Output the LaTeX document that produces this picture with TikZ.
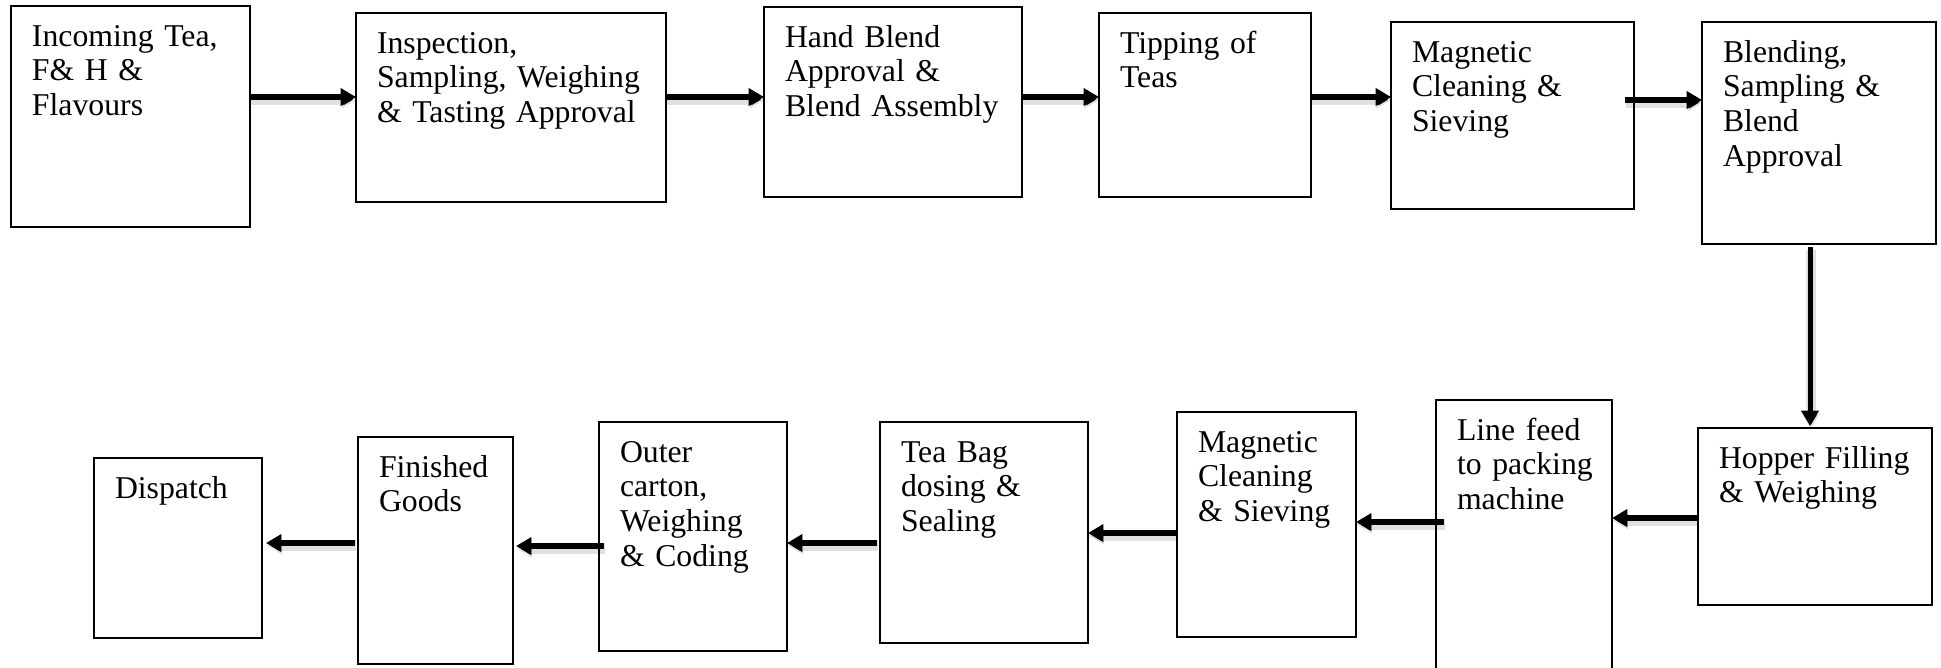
\documentclass[tikz,border=0pt]{standalone}
\usepackage{fontspec}
\setmainfont{Liberation Serif}
\usetikzlibrary{arrows.meta,calc}

\tikzset{
  box/.style={draw=black, line width=0.6pt, rectangle, inner sep=0pt, outer sep=0pt, fill=white},
  txt/.style={inner sep=0pt, outer sep=0pt, anchor=base west, align=left,
              font=\fontsize{12pt}{13.2pt}\selectfont},
  flow/.style={line width=1.9pt, -{Triangle[length=5.8pt,width=6.4pt]},
               preaction={draw=black, draw opacity=0.12, line width=4pt,
                          transform canvas={yshift=-1pt, xshift=0.3pt}}},
}

% one process box given by its corners (in px units) with its text at the top left
\newcommand\flowbox[6]{%
  \pgfmathsetmacro\bw{(#4-#2)*0.378}%
  \pgfmathsetmacro\bh{(#5-#3)*0.378}%
  \pgfmathsetmacro\tw{(#4-#2-26)*0.378}%
  \node[box, minimum width=\bw pt, minimum height=\bh pt] (#1) at ({(#2+#4)/2},{(#3+#5)/2}) {};
  \node[txt, text width=\tw pt] (#1t) at ([shift={(21,40)}]#1.north west) {#6};
}

\begin{document}
\begin{tikzpicture}[x=0.378pt, y=-0.378pt]
\clip (0,0) rectangle (1941,667);
\fill[white] (0,0) rectangle (1941,667);

% upper row, left to right
\flowbox{b1}{11}{6}{250}{227}{Incoming Tea,\\F\& H \&\\Flavours}
\flowbox{b2}{356}{13}{666}{202}{Inspection,\\Sampling, Weighing\\\& Tasting Approval}
\flowbox{b3}{764}{7}{1022}{197}{Hand Blend\\Approval \&\\Blend Assembly}
\flowbox{b4}{1099}{13}{1311}{197}{Tipping of\\Teas}
\flowbox{b5}{1391}{22}{1634}{209}{Magnetic\\Cleaning \&\\Sieving}
\flowbox{b6}{1702}{22}{1936}{244}{Blending,\\Sampling \&\\Blend\\Approval}

% lower row, right to left
\flowbox{b7}{1698}{428}{1932}{605}{Hopper Filling\\\& Weighing}
\flowbox{b8}{1436}{400}{1612}{675}{Line feed\\to packing\\machine}
\flowbox{b9}{1177}{412}{1356}{637}{Magnetic\\Cleaning\\\& Sieving}
\flowbox{b10}{880}{422}{1088}{643}{Tea Bag\\dosing \&\\Sealing}
\flowbox{b11}{599}{422}{787}{651}{Outer\\carton,\\Weighing\\\& Coding}
\flowbox{b12}{358}{437}{513}{664}{Finished\\Goods}
\flowbox{b13}{94}{458}{262}{638}{Dispatch}

% heights of the connectors
\coordinate (r1) at (0,97);
\coordinate (r2) at (0,100);
\coordinate (v1) at (1810,0);
\coordinate (r7) at (0,518);
\coordinate (r8) at (0,522);
\coordinate (r9) at (0,533);
\coordinate (r10) at (0,543);
\coordinate (r11) at (0,546);
\coordinate (r12) at (0,543);

\draw[flow] (b1.east |- r1) -- (b2.west |- r1);
\draw[flow] (b2.east |- r1) -- (b3.west |- r1);
\draw[flow] (b3.east |- r1) -- (b4.west |- r1);
\draw[flow] (b4.east |- r1) -- (b5.west |- r1);
\draw[flow] ([shift={(-9,0)}]b5.east |- r2) -- (b6.west |- r2);
\draw[flow] ([shift={(0,3)}]b6.south -| v1) -- ([shift={(0,-2)}]b7.north -| v1);
\draw[flow] (b7.west |- r7) -- (b8.east |- r7);
\draw[flow] ([shift={(8,0)}]b8.west |- r8) -- (b9.east |- r8);
\draw[flow] (b9.west |- r9) -- (b10.east |- r9);
\draw[flow] ([shift={(-3,0)}]b10.west |- r10) -- (b11.east |- r10);
\draw[flow] ([shift={(5,0)}]b11.west |- r11) -- ([shift={(3,0)}]b12.east |- r11);
\draw[flow] ([shift={(-3,0)}]b12.west |- r12) -- ([shift={(4,0)}]b13.east |- r12);
\end{tikzpicture}
\end{document}
